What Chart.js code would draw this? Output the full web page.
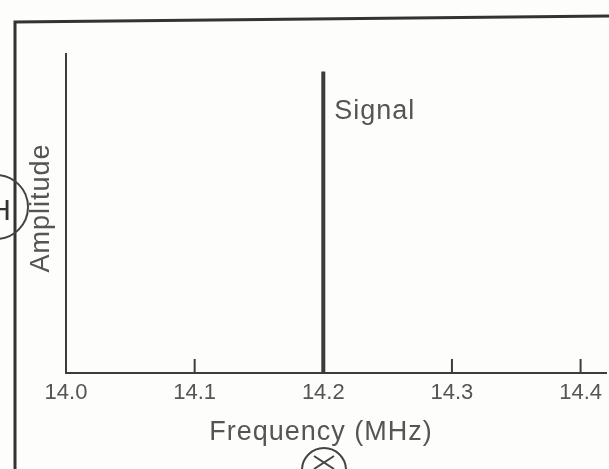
<!DOCTYPE html>
<html>
<head>
<meta charset="utf-8">
<script src="https://cdn.jsdelivr.net/npm/chart.js@4"></script>
<style>
  html, body { margin: 0; padding: 0; background: #fdfdfb; }
  #wrap { width: 609px; height: 469px; position: relative; }
</style>
</head>
<body>
<div id="wrap"><canvas id="specChart"></canvas></div>
<script>
// values
const frequencies = [14.2];        // MHz
const amplitudes = [0.945];        // relative
const tickValues = [14.0, 14.1, 14.2, 14.3, 14.4];
const signalLabels = ["Signal"];

const ink = "#3c3c3c";
const textGrey = "#555";
const font = "'Liberation Sans', Arial, sans-serif";

// each signal is a vertical line from the axis up to its amplitude
const signalPoints = [];
frequencies.forEach((f, i) => {
    signalPoints.push({ x: f, y: 0 }, { x: f, y: amplitudes[i] }, { x: NaN, y: NaN });
});

const decorations = {
    id: "decorations",
    afterDraw(chart) {
        const ctx = chart.ctx;
        const x = chart.scales.x;
        const y = chart.scales.y;
        ctx.save();

        // scanned frame around the figure
        ctx.strokeStyle = "#333";
        ctx.lineWidth = 3;
        ctx.beginPath();
        ctx.moveTo(15, 469);
        ctx.lineTo(15, 22);
        ctx.lineTo(609, 16);
        ctx.stroke();

        // tick marks pointing into the plot
        ctx.strokeStyle = ink;
        ctx.lineWidth = 2;
        x.ticks.forEach(t => {
            const px = x.getPixelForValue(t.value);
            ctx.beginPath();
            ctx.moveTo(px, chart.chartArea.bottom);
            ctx.lineTo(px, chart.chartArea.bottom - 14);
            ctx.stroke();
        });

        ctx.fillStyle = textGrey;
        ctx.font = "27px " + font;
        ctx.letterSpacing = "1px";

        // signal label next to the line
        ctx.textAlign = "left";
        ctx.textBaseline = "alphabetic";
        frequencies.forEach((f, i) => {
            ctx.fillText(signalLabels[i], x.getPixelForValue(f) + 11, y.getPixelForValue(amplitudes[i]) + 47);
        });

        // axis titles
        ctx.textAlign = "center";
        ctx.textBaseline = "middle";
        ctx.fillText("Frequency (MHz)", 321, 433);
        ctx.save();
        ctx.translate(42, 208);
        ctx.rotate(-Math.PI / 2);
        ctx.fillText("Amplitude", 0, 0);
        ctx.restore();
        ctx.letterSpacing = "0px";

        // hand-drawn circled marks in the margin
        ctx.strokeStyle = "#444";
        ctx.lineWidth = 2;
        ctx.beginPath();
        ctx.arc(-4, 207, 32, -Math.PI / 2, Math.PI / 2);
        ctx.stroke();
        ctx.font = "30px " + font;
        ctx.fillStyle = "#333";
        ctx.fillText("H", 0, 212);

        ctx.beginPath();
        ctx.arc(324, 470, 22, Math.PI, 2 * Math.PI);
        ctx.stroke();
        ctx.beginPath();
        ctx.moveTo(314, 456); ctx.lineTo(334, 469);
        ctx.moveTo(334, 456); ctx.lineTo(314, 469);
        ctx.stroke();

        ctx.restore();
    }
};

new Chart(document.getElementById("specChart"), {
    type: "line",
    data: {
        datasets: [{
            label: "Signal",
            data: signalPoints,
            borderColor: ink,
            borderWidth: 4,
            borderCapStyle: "butt",
            pointRadius: 0,
            spanGaps: false,
            tension: 0
        }]
    },
    options: {
        responsive: true,
        maintainAspectRatio: false,
        animation: false,
        layout: { padding: { top: 54, left: 0, right: 0, bottom: 0 } },
        plugins: {
            legend: { display: false },
            tooltip: { enabled: false }
        },
        scales: {
            x: {
                type: "linear",
                min: 14.0,
                max: 14.42,
                afterFit: s => { s.height = 96; },
                afterBuildTicks: s => { s.ticks = tickValues.map(v => ({ value: v })); },
                ticks: {
                    includeBounds: false,
                    padding: 7,
                    color: textGrey,
                    font: { family: font, size: 22 },
                    maxRotation: 0,
                    callback: v => v.toFixed(1)
                },
                grid: { display: false, drawTicks: false },
                border: { display: true, color: ink, width: 2 }
            },
            y: {
                min: 0,
                max: 1,
                afterFit: s => { s.width = 66; },
                ticks: { display: false },
                grid: { display: false, drawTicks: false },
                border: { display: true, color: ink, width: 2 }
            }
        }
    },
    plugins: [decorations]
});
</script>
</body>
</html>
